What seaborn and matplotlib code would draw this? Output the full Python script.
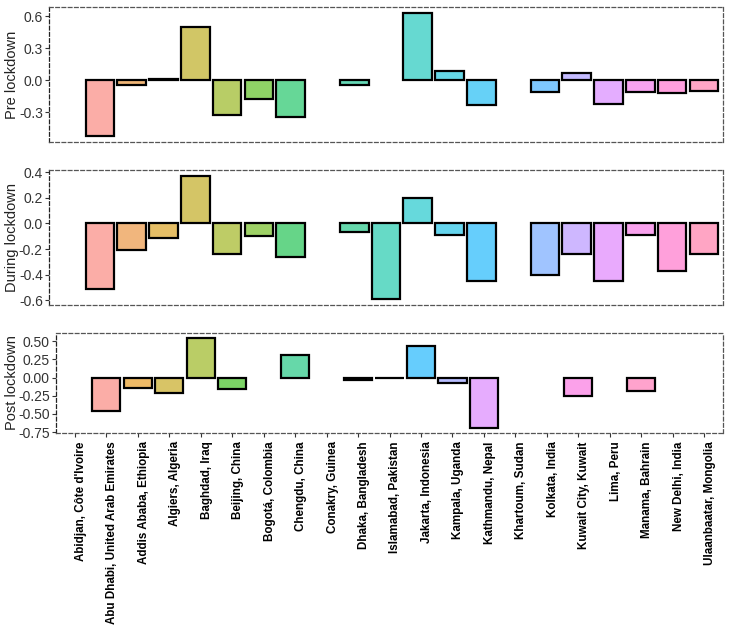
import numpy as np
import pandas as pd
import matplotlib
matplotlib.use("Agg")
import matplotlib.pyplot as plt
import matplotlib.transforms as mtrans
import seaborn as sns

sns.set_style("white")
plt.rcParams['font.family'] = ['Liberation Sans', 'DejaVu Sans']
plt.rcParams['axes.unicode_minus'] = False

cities = ["Abidjan, Côte d'Ivoire", "Abu Dhabi, United Arab Emirates",
          "Addis Ababa, Ethiopia", "Algiers, Algeria", "Baghdad, Iraq",
          "Beijing, China", "Bogotá, Colombia", "Chengdu, China",
          "Conakry, Guinea", "Dhaka, Bangladesh", "Islamabad, Pakistan",
          "Jakarta, Indonesia", "Kampala, Uganda", "Kathmandu, Nepal",
          "Khartoum, Sudan", "Kolkata, India", "Kuwait City, Kuwait",
          "Lima, Peru", "Manama, Bahrain", "New Delhi, India",
          "Ulaanbaatar, Mongolia"]

nan = np.nan
pre = [nan, -0.52, -0.04, 0.01, 0.50, -0.32, -0.17, -0.34, nan, -0.04, nan,
       0.63, 0.09, -0.23, nan, -0.11, 0.07, -0.22, -0.11, -0.12, -0.10]
during = [nan, -0.51, -0.21, -0.11, 0.37, -0.24, -0.10, -0.26, nan, -0.07, -0.59,
          0.20, -0.09, -0.45, nan, -0.40, -0.24, -0.45, -0.09, -0.37, -0.24]
post = [nan, -0.46, -0.15, -0.21, 0.55, -0.16, nan, 0.31, nan, -0.03, 0.0,
        0.44, -0.08, -0.70, nan, nan, -0.25, nan, -0.18, nan, nan]

panels = ["Pre lockdown", "During lockdown", "Post lockdown"]
yticks = [[-0.3, 0.0, 0.3, 0.6],
          [-0.6, -0.4, -0.2, 0.0, 0.2, 0.4],
          [-0.75, -0.5, -0.25, 0.0, 0.25, 0.5]]
yfmt = ["{:.1f}", "{:.1f}", "{:.2f}"]


def hue_pal(n, l=65, c=100):
    # ggplot-like default hue palette (HCL -> sRGB)
    hues = 15 + 360 * np.arange(n) / n
    out = []
    Xn, Yn, Zn = 95.047, 100.0, 108.883
    un = 4 * Xn / (Xn + 15 * Yn + 3 * Zn)
    vn = 9 * Yn / (Xn + 15 * Yn + 3 * Zn)
    for h in hues:
        u = c * np.cos(np.radians(h))
        v = c * np.sin(np.radians(h))
        Y = Yn * ((l + 16) / 116) ** 3
        up = u / (13 * l) + un
        vp = v / (13 * l) + vn
        X = Y * 9 * up / (4 * vp)
        Z = Y * (12 - 3 * up - 20 * vp) / (4 * vp)
        xyz = np.array([X, Y, Z]) / 100
        m = np.array([[3.2406, -1.5372, -0.4986],
                      [-0.9689, 1.8758, 0.0415],
                      [0.0557, -0.2040, 1.0570]])
        rgb = m @ xyz
        rgb = np.where(rgb <= 0.0031308, 12.92 * rgb,
                       1.055 * np.clip(rgb, 0, None) ** (1 / 2.4) - 0.055)
        rgb = np.clip(rgb, 0, 1)
        # alpha 0.6 over white
        out.append(tuple(rgb * 0.6 + 0.4))
    return out


fig = plt.figure(figsize=(7.29, 6.35), dpi=100)
W, H = 729, 635
boxes = [(49, 7, 723, 142), (49, 170, 723, 305), (56, 333, 723, 433)]

for k, (name, vals) in enumerate(zip(panels, [pre, during, post])):
    x0, y0, x1, y1 = boxes[k]
    ax = fig.add_axes([x0 / W, (H - y1) / H, (x1 - x0) / W, (y1 - y0) / H])
    df = pd.DataFrame({'city': cities, 'value': vals}).dropna()
    pal = dict(zip(df['city'], hue_pal(len(df))))
    sns.barplot(data=df, x='city', y='value', hue='city', order=cities,
                palette=pal, legend=False, dodge=False, width=0.9,
                edgecolor='black', linewidth=1.6, saturation=1, ax=ax)
    lo, hi = min(df['value'].min(), 0), max(df['value'].max(), 0)
    pad = 0.05 * (hi - lo)
    ax.set_ylim(lo - pad, hi + pad)
    ax.set_xlim(-0.6, len(cities) - 0.4)
    ax.set_yticks(yticks[k])
    ax.set_yticklabels([yfmt[k].format(t) for t in yticks[k]],
                       fontsize=10, color='#333333')
    ax.set_ylabel(name, fontsize=10.5, color='#222222')
    ax.set_xlabel('')
    ax.tick_params(axis='y', left=True, length=3, width=0.8, pad=1.5,
                   color='#333333')
    for side, sp in ax.spines.items():
        sp.set_linestyle((0, (3, 2)))
        sp.set_color('#555555')
        sp.set_linewidth(0.9)
    ax.spines['left'].set_color('#222222')
    if k < 2:
        ax.tick_params(axis='x', bottom=False, labelbottom=False)
    else:
        ax.set_xticks(range(len(cities)))
        ax.set_xticklabels(cities, rotation=90, fontsize=8.4,
                           fontweight='bold', color='black')
        ax.tick_params(axis='x', bottom=True, length=3, width=0.8, pad=3,
                       color='#333333')
        shift = mtrans.ScaledTranslation(6 / 100, 0, fig.dpi_scale_trans)
        for lab in ax.get_xticklabels():
            lab.set_transform(lab.get_transform() + shift)
    ax.yaxis.set_label_coords(-(x0 - 19) / (x1 - x0), 0.5)

fig.savefig("out.png", dpi=100)
plt.close(fig)
